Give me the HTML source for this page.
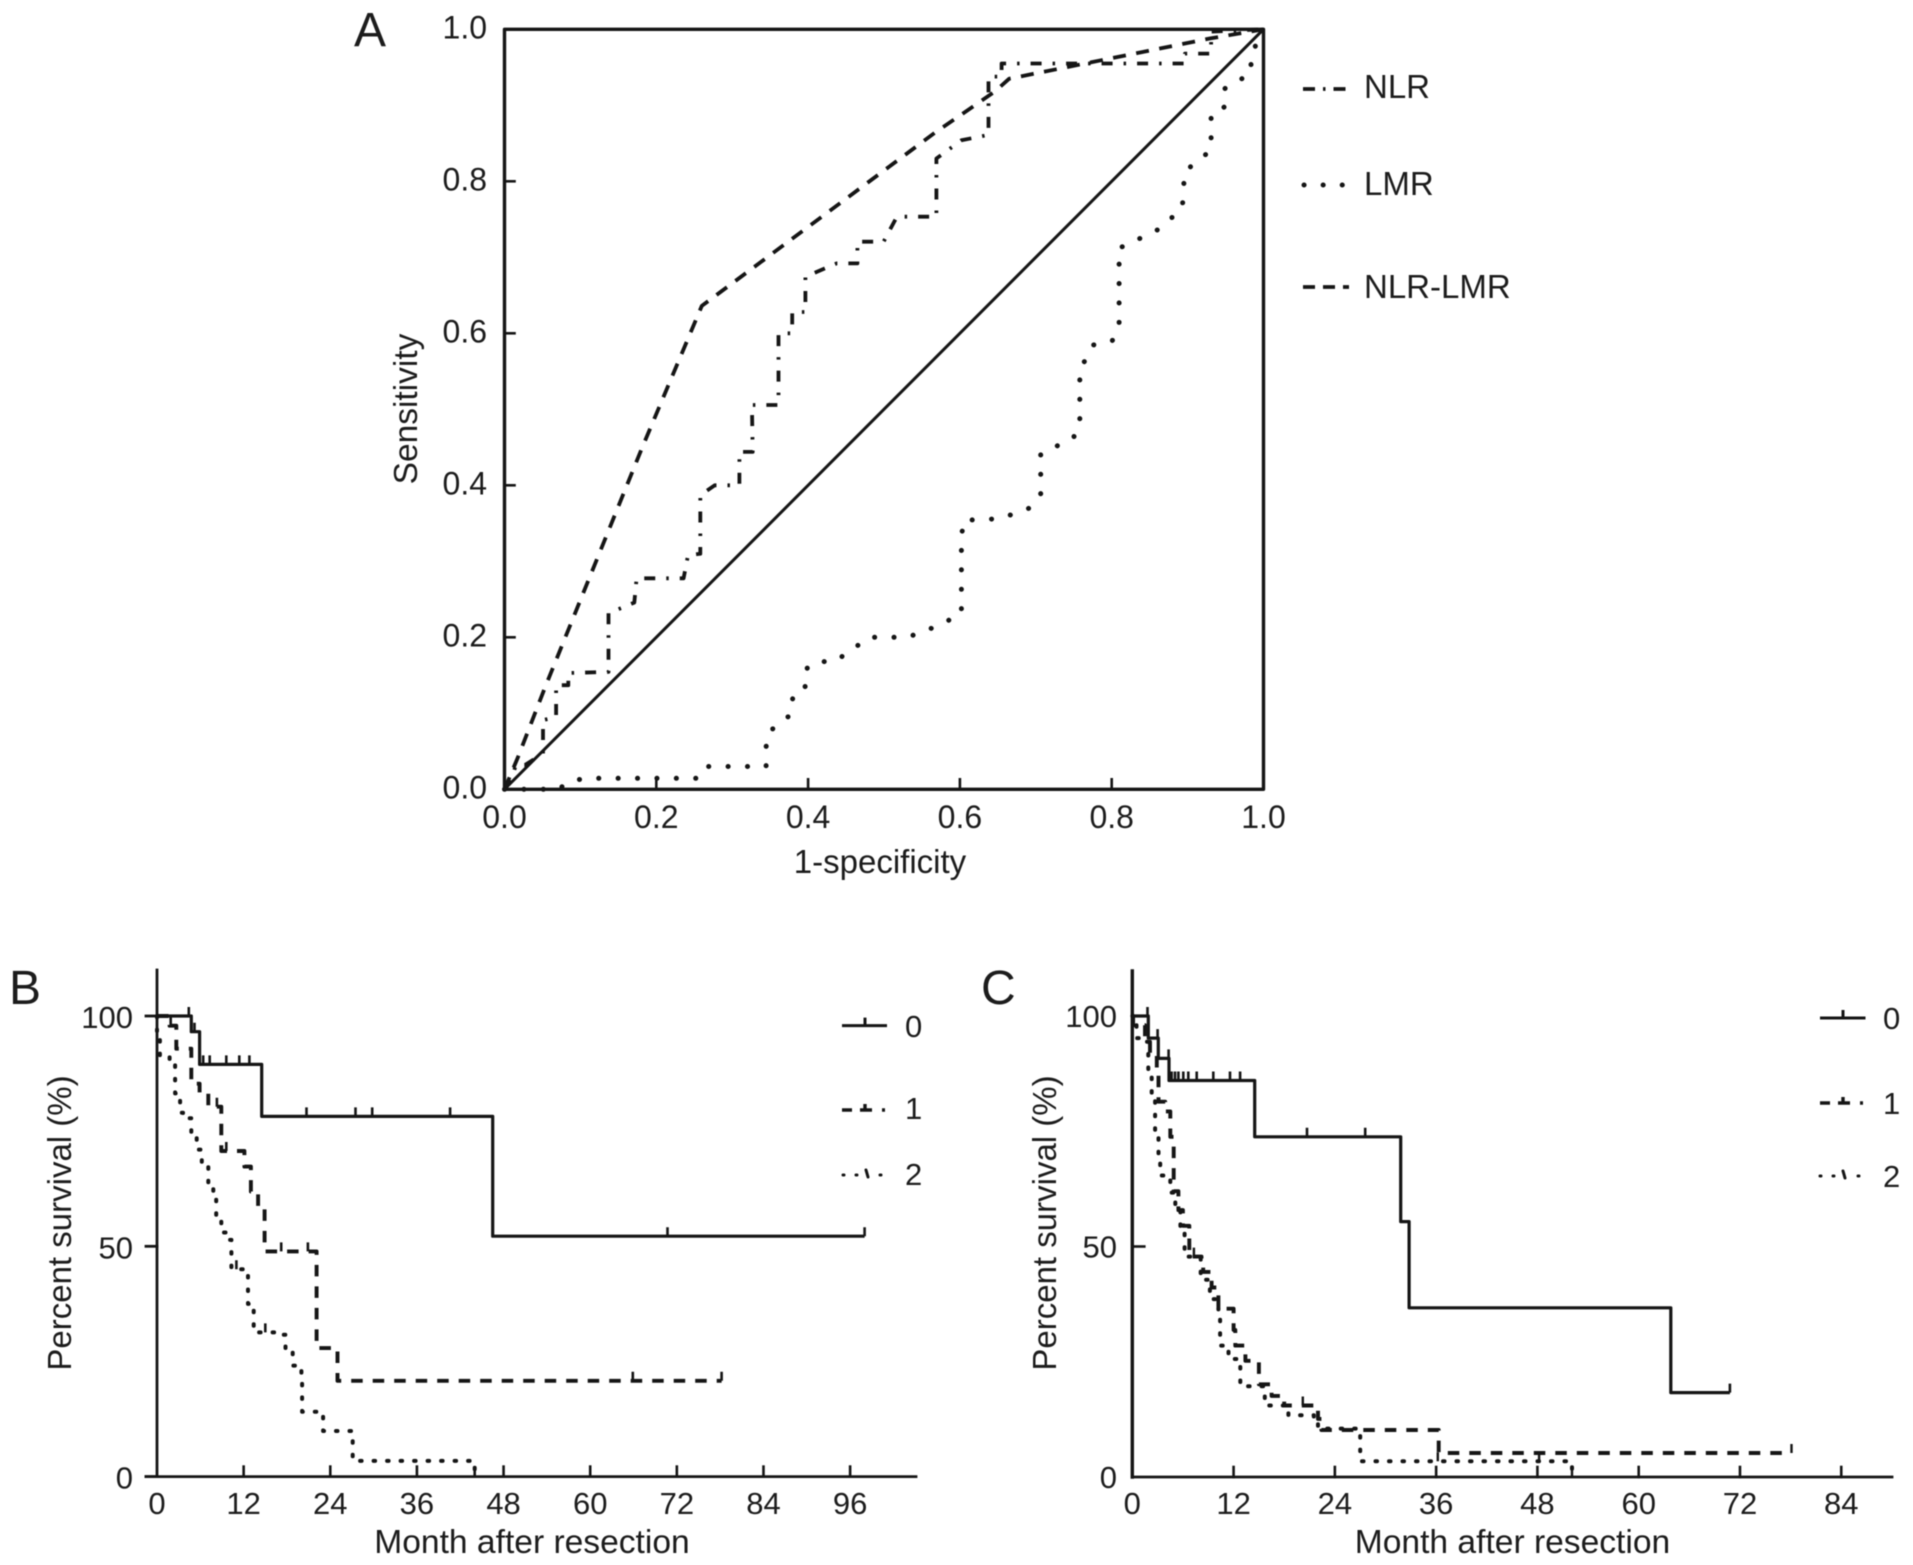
<!DOCTYPE html>
<html lang="en">
<head>
<meta charset="utf-8">
<title>ROC and survival curves</title>
<style>
  html, body { margin: 0; padding: 0; background: #fff; }
  body { width: 1913px; height: 1565px; overflow: hidden; }
  svg { display: block; filter: blur(0.45px); }
  text { font-family: "Liberation Sans", Arial, sans-serif; fill: #1c1c1c; }
</style>
</head>
<body>
<svg id="figure" xmlns="http://www.w3.org/2000/svg" width="1913" height="1565" viewBox="0 0 1913 1565">
  <rect width="1913" height="1565" fill="#fff"/>

  <text x="354" y="46" font-size="48">A</text>
  <text x="9" y="1004" font-size="48">B</text>
  <text x="981" y="1004" font-size="48">C</text>

  <text x="880" y="873" font-size="33" text-anchor="middle">1-specificity</text>
  <text transform="translate(417 409) rotate(-90)" font-size="33.5" text-anchor="middle">Sensitivity</text>

  <text x="1364" y="98" font-size="33">NLR</text>
  <text x="1364" y="195" font-size="33">LMR</text>
  <text x="1364" y="298" font-size="33">NLR-LMR</text>

  <text transform="translate(71 1223) rotate(-90)" font-size="33" text-anchor="middle">Percent survival (%)</text>
  <text x="532" y="1553" font-size="33.6" text-anchor="middle">Month after resection</text>
  <text x="905" y="1037" font-size="31">0</text>
  <text x="905" y="1119" font-size="31">1</text>
  <text x="905" y="1185" font-size="31">2</text>

  <text transform="translate(1056 1223) rotate(-90)" font-size="33" text-anchor="middle">Percent survival (%)</text>
  <text x="1512.5" y="1553" font-size="33.6" text-anchor="middle">Month after resection</text>
  <text x="1883" y="1029" font-size="31">0</text>
  <text x="1883" y="1114" font-size="31">1</text>
  <text x="1883" y="1187" font-size="31">2</text>
</svg>

<script>
// ---------- Panel A: ROC data ----------
const rocTicks = [0, 0.2, 0.4, 0.6, 0.8, 1];
const rocTickLabels = ["0.0", "0.2", "0.4", "0.6", "0.8", "1.0"];

const refX = [0, 1];
const refY = [0, 1];

const nlrX = [0, .0095, .015, .027, .0507, .0507, .068, .068, .084, .084, .137, .137, .171, .174, .236, .2418, .258, .258, .277, .3095, .3095, .327, .326, .361, .361, .379, .379, .3965, .3965, .4377, .465, .465, .4995, .517, .569, .569, .602, .6377, .6377, .655, .655, .8966, .8966, .931, .931, 1];
const nlrY = [0, .015, .032, .032, .047, .091, .095, .137, .137, .153, .1545, .2316, .2456, .2776, .2776, .308, .31, .387, .40, .40, .444, .444, .5057, .5057, .60, .60, .628, .628, .6745, .692, .692, .7205, .7205, .7534, .7534, .83, .854, .861, .9377, .9377, .955, .955, .968, .968, .997, 1];

const lmrX = [0, .071, .085, .106, .258, .268, .3447, .3447, .349, .377, .38, .396, .396, .409, .435, .465, .48, .531, .568, .602, .602, .605, .653, .693, .7065, .7065, .7076, .749, .758, .758, .7757, .8006, .8097, .8097, .844, .862, .893, .896, .931, .931, .949, .949, .9835, .9835, 1];
const lmrY = [0, 0, .01, .0145, .0145, .03, .03, .056, .076, .098, .122, .131, .157, .168, .168, .189, .2, .2, .214, .2307, .332, .354, .356, .3705, .389, .441, .442, .462, .477, .5517, .5846, .59, .611, .712, .728, .737, .7645, .8127, .841, .8895, .898, .922, .942, .966, 1];

const comboX = [0, .018, .053, .182, .26, .567, .646, .665, .93, 1];
const comboY = [0, .043, .133, .451, .636, .864, .918, .935, .988, 1];

// ---------- Panel B: survival data ----------
const bTicks = [0, 12, 24, 36, 48, 60, 72, 84, 96];
const bPercentTicks = [0, 50, 100];

const bGroup0Months = [0, 4.75, 5.9, 14.5, 46.5, 98];
const bGroup0Survival = [100, 96.6, 89.5, 78.2, 52.2, 52.2];
const bGroup0Censored = [4.4, 5.2, 6.4, 7.3, 9.6, 11.4, 12.8, 20.7, 27.5, 29.8, 40.6, 70.7, 98];

const bGroup1Months = [0, 1.75, 2.67, 2.67, 4.75, 4.75, 5.9, 5.9, 7.1, 7.1, 8.9, 8.9, 12.1, 12.1, 13, 13, 14, 14, 14.9, 14.9, 22.1, 22.1, 25, 25, 78.2];
const bGroup1Survival = [100, 97.9, 95.4, 92.9, 90.4, 85.3, 85.3, 83.2, 83.2, 80.3, 79.9, 70.7, 70.7, 67.3, 67.3, 61.9, 61.9, 58.5, 58.5, 48.9, 48.9, 27.9, 27.9, 20.8, 20.8];
const bGroup1Censored = [1.9, 8.3, 9.6, 17.2, 20.9, 65.9, 78.2];

const bGroup2Months = [0, 0, .4, 1.75, 2.5, 2.5, 3.2, 3.2, 3.6, 4.75, 4.75, 5.5, 6.2, 7.1, 7.8, 8.2, 8.9, 10.05, 10.3, 12.3, 12.6, 12.6, 13.4, 16.5, 17.8, 17.8, 18.8, 20, 20.1, 23, 23, 26.7, 27.1, 44, 44];
const bGroup2Survival = [100, 95.8, 91.2, 90.4, 87, 83.2, 83.2, 79, 77.8, 77.8, 74.4, 71, 67.7, 63.5, 61.9, 56, 53, 51.4, 45, 45, 41.7, 37.5, 31.3, 30.8, 30, 27.5, 24.1, 22, 14.1, 12.4, 9.9, 9.9, 3.4, 3.4, 0];
const bGroup2Censored = [11, 15, 44];

// ---------- Panel C: survival data ----------
const cTicks = [0, 12, 24, 36, 48, 60, 72, 84];
const cPercentTicks = [0, 50, 100];

const cGroup0Months = [0, 1.9, 3.08, 4.35, 14.5, 31.8, 32.8, 63.8, 70.8];
const cGroup0Survival = [100, 95.2, 90.8, 86, 73.8, 55.4, 36.7, 18.3, 18.3];
const cGroup0Censored = [1.8, 3.0, 4.3, 4.66, 5.06, 5.46, 6.04, 6.64, 7.63, 9.6, 11.57, 12.77, 20.7, 27.6, 70.8];

const cGroup1Months = [0, .1, 1.5, 2.1, 2.9, 3.1, 3.9, 4.5, 4.9, 4.9, 5.46, 6, 6.75, 6.75, 8.2, 8.4, 9.4, 10.2, 10.2, 11.8, 12, 12.2, 13.4, 15, 15, 16.5, 18, 22, 22, 22.4, 36.3, 36.3, 78.1];
const cGroup1Survival = [100, 98, 94.4, 91.4, 87.2, 81.4, 79.3, 73.8, 71.3, 62, 57.9, 54.5, 52, 47.8, 47.4, 44.5, 41.1, 39, 36.5, 36.5, 31.9, 28.5, 25.2, 25.2, 20.1, 17.6, 15.5, 15.5, 12.6, 10.2, 10.2, 5.2, 5.2];
const cGroup1Censored = [7.3, 20.2, 78.1];

const cGroup2Months = [0, .1, .5, 1.5, 1.9, 2.3, 2.7, 3.1, 3.3, 4.5, 5.1, 5.7, 6.2, 8.1, 8.1, 9.2, 10.2, 10.4, 11.4, 12.8, 12.8, 15.5, 15.7, 18.5, 21.5, 22, 27, 27, 52.1, 52.1];
const cGroup2Survival = [100, 98, 95.2, 94.4, 88, 82.2, 74.7, 68.8, 65.4, 61.7, 57.9, 53.7, 47.8, 47.8, 42.8, 38.6, 34.4, 28.5, 25.6, 25.6, 19.7, 19.7, 15.5, 13.4, 13, 10.5, 9.6, 3.4, 3.4, 0];
const cGroup2Censored = [36.2, 48.2, 52.1];

// ---------- Drawing ----------
const SVG_NS = 'http://www.w3.org/2000/svg';
const figure = document.getElementById('figure');
const INK = '#151515';

function make(tag, parent) {
  const el = document.createElementNS(SVG_NS, tag);
  (parent || figure).appendChild(el);
  return el;
}
function setLine(el, x1, y1, x2, y2, width) {
  el.setAttribute('x1', x1);
  el.setAttribute('y1', y1);
  el.setAttribute('x2', x2);
  el.setAttribute('y2', y2);
  el.setAttribute('stroke', INK);
  el.setAttribute('stroke-width', width);
  el.setAttribute('stroke-linecap', 'square');
}
function setPath(el, d, width, dash, cap) {
  el.setAttribute('d', d);
  el.setAttribute('fill', 'none');
  el.setAttribute('stroke', INK);
  el.setAttribute('stroke-width', width);
  el.setAttribute('stroke-linejoin', 'round');
  if (dash) el.setAttribute('stroke-dasharray', dash);
  if (cap) el.setAttribute('stroke-linecap', cap);
}
function setText(el, x, y, size, anchor, content) {
  el.setAttribute('x', x);
  el.setAttribute('y', y);
  el.setAttribute('font-size', size);
  el.setAttribute('text-anchor', anchor);
  el.textContent = content;
}

// Panel A scales
const rocX = v => 504.5 + v * 759;
const rocY = v => 789.3 - v * 760;

const rocFrame = make('path');


setPath(rocFrame, 'M' + rocX(0) + ' ' + rocY(0) + 'L' + rocX(0) + ' ' + rocY(1) + 'L' + rocX(1) + ' ' + rocY(1) + 'L' + rocX(1) + ' ' + rocY(0) + 'Z', 3.4, '', '');

rocTicks.forEach((t, i) => {
  if (t > 0 && t < 1) {
    const xt = make('line');
    
    
    setLine(xt, rocX(t), rocY(0), rocX(t), rocY(0) - 10, 2.6);
    const yt = make('line');
    
    
    setLine(yt, rocX(0), rocY(t), rocX(0) + 10, rocY(t), 2.6);
  }
  const xl = make('text');
  
  
  setText(xl, rocX(t), 828, 32, 'middle', rocTickLabels[i]);
  const yl = make('text');
  
  
  setText(yl, 487, rocY(t) + 9, 32, 'end', rocTickLabels[i]);
});

function rocPath(xs, ys) {
  return xs.map((x, i) => (i ? 'L' : 'M') + rocX(x).toFixed(1) + ' ' + rocY(ys[i]).toFixed(1)).join('');
}
const DASH_NLR = '11 11 2.5 11';
const DASH_LMR = '0.1 19.3';
const DASH_COMBO = '13 10.5';

const refLine = make('path');


setPath(refLine, rocPath(refX, refY), 3, '', '');

const nlrCurve = make('path');


setPath(nlrCurve, rocPath(nlrX, nlrY), 3.8, DASH_NLR, '');

const lmrCurve = make('path');


setPath(lmrCurve, rocPath(lmrX, lmrY), 5, DASH_LMR, 'round');

const comboCurve = make('path');


setPath(comboCurve, rocPath(comboX, comboY), 3.8, DASH_COMBO, '');

const nlrSample = make('path');


setPath(nlrSample, 'M1303 89H1349', 3.8, '12 8 2.5 8', '');

const lmrSample = make('path');


setPath(lmrSample, 'M1304 185H1349', 5, '0.1 19', 'round');

const comboSample = make('path');


setPath(comboSample, 'M1303 287H1349', 3.8, '12 8', '');

// Survival panels
const DASH_GROUP1 = '11.5 10';
const DASH_GROUP2 = '1.5 12';

function stepPath(months, survival, px, py) {
  let d = 'M' + px(months[0]).toFixed(1) + ' ' + py(survival[0]).toFixed(1);
  for (let i = 1; i < months.length; i++) {
    d += 'H' + px(months[i]).toFixed(1) + 'V' + py(survival[i]).toFixed(1);
  }
  return d;
}
function survivalAt(m, months, survival) {
  let v = survival[0];
  for (let i = 0; i < months.length; i++) {
    if (months[i] <= m) v = survival[i];
  }
  return v;
}
function censorPath(censored, months, survival, px, py) {
  return censored.map(m => 'M' + px(m).toFixed(1) + ' ' + py(survivalAt(m, months, survival)).toFixed(1) + 'v-9').join('');
}

// Panel B scales
const bX = m => 157 + m * 7.22;
const bY = v => 1476.6 - v * 4.606;

const bYAxis = make('line');


setLine(bYAxis, bX(0), 970, bX(0), bY(0), 2.8);
const bXAxis = make('line');


setLine(bXAxis, 146, bY(0), 916, bY(0), 2.8);

bTicks.forEach(t => {
  if (t > 0) {
    const tk = make('line');
    
    
    setLine(tk, bX(t), bY(0), bX(t), bY(0) - 10, 2.6);
  }
  const lb = make('text');
  
  
  setText(lb, bX(t), 1514, 31, 'middle', String(t));
});
bPercentTicks.forEach(t => {
  const tk = make('line');
  
  
  setLine(tk, 146, bY(t), bX(0), bY(t), 2.8);
  const lb = make('text');
  
  
  setText(lb, 133, bY(t) + 12, 31, 'end', String(t));
});

const bCurve2 = make('path');


setPath(bCurve2, stepPath(bGroup2Months, bGroup2Survival, bX, bY), 4, DASH_GROUP2, 'round');
const bMarks2 = make('path');


setPath(bMarks2, censorPath(bGroup2Censored, bGroup2Months, bGroup2Survival, bX, bY), 2.6, '', '');

const bCurve1 = make('path');


setPath(bCurve1, stepPath(bGroup1Months, bGroup1Survival, bX, bY), 3.9, DASH_GROUP1, '');
const bMarks1 = make('path');


setPath(bMarks1, censorPath(bGroup1Censored, bGroup1Months, bGroup1Survival, bX, bY), 2.6, '', '');

const bCurve0 = make('path');


setPath(bCurve0, stepPath(bGroup0Months, bGroup0Survival, bX, bY), 3.2, '', '');
const bMarks0 = make('path');


setPath(bMarks0, censorPath(bGroup0Censored, bGroup0Months, bGroup0Survival, bX, bY), 2.6, '', '');

const bSample0 = make('path');


setPath(bSample0, 'M842 1025.6H887M865 1025.6v-8', 3, '', '');
const bSample1 = make('path');


setPath(bSample1, 'M842 1110H852M860 1110H872M865 1110v-6M882 1110H885', 3.4, '', '');
const bSample2 = make('path');


setPath(bSample2, 'M843 1175h1M856 1175h1M866 1170l2 7M880 1175h1', 3, '', 'round');

// Panel C scales
const cX = m => 1132.3 + m * 8.44;
const cY = v => 1477 - v * 4.61;

const cYAxis = make('line');


setLine(cYAxis, cX(0), 971, cX(0), cY(0), 3.4);
const cXAxis = make('line');


setLine(cXAxis, cX(0), cY(0), 1892, cY(0), 2.8);

cTicks.forEach(t => {
  if (t > 0) {
    const tk = make('line');
    
    
    setLine(tk, cX(t), cY(0), cX(t), cY(0) - 10, 2.6);
  }
  const lb = make('text');
  
  
  setText(lb, cX(t), 1514, 31, 'middle', String(t));
});
cPercentTicks.forEach(t => {
  if (t > 0) {
    const tk = make('line');
    
    
    setLine(tk, cX(0), cY(t), cX(0) + 12, cY(t), 2.6);
  }
  const lb = make('text');
  
  
  setText(lb, 1117, cY(t) + 11, 31, 'end', String(t));
});

const cCurve2 = make('path');


setPath(cCurve2, stepPath(cGroup2Months, cGroup2Survival, cX, cY), 4, DASH_GROUP2, 'round');
const cMarks2 = make('path');


setPath(cMarks2, censorPath(cGroup2Censored, cGroup2Months, cGroup2Survival, cX, cY), 2.4, '', '');

const cCurve1 = make('path');


setPath(cCurve1, stepPath(cGroup1Months, cGroup1Survival, cX, cY), 3.9, DASH_GROUP1, '');
const cMarks1 = make('path');


setPath(cMarks1, censorPath(cGroup1Censored, cGroup1Months, cGroup1Survival, cX, cY), 2.4, '', '');

const cCurve0 = make('path');


setPath(cCurve0, stepPath(cGroup0Months, cGroup0Survival, cX, cY), 3.2, '', '');
const cMarks0 = make('path');


setPath(cMarks0, censorPath(cGroup0Censored, cGroup0Months, cGroup0Survival, cX, cY), 2.6, '', '');

const cSample0 = make('path');


setPath(cSample0, 'M1820 1018H1865.5M1843 1018v-8', 3, '', '');
const cSample1 = make('path');


setPath(cSample1, 'M1820 1103H1830M1838 1103H1850M1843 1103v-6M1860 1103H1863', 3.4, '', '');
const cSample2 = make('path');


setPath(cSample2, 'M1820 1176h1M1833 1176h1M1843 1171l2 7M1858 1176h1', 3, '', 'round');
</script>
</body>
</html>
